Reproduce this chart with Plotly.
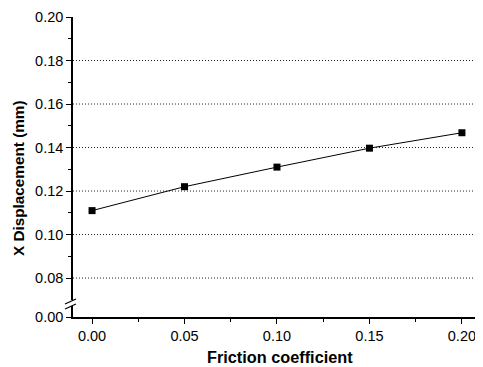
import plotly.graph_objects as go

# Data
friction = [0.00, 0.05, 0.10, 0.15, 0.20]
displacement = [0.111, 0.122, 0.131, 0.1397, 0.1468]

x_ticks = [0.00, 0.05, 0.10, 0.15, 0.20]
x_tick_labels = ["0.00", "0.05", "0.10", "0.15", "0.20"]
y_ticks = [0.08, 0.10, 0.12, 0.14, 0.16, 0.18, 0.20]
y_tick_labels = ["0.08", "0.10", "0.12", "0.14", "0.16", "0.18", "0.20"]
grid_values = [0.08, 0.10, 0.12, 0.14, 0.16, 0.18]

# broken axis: the "0.00" label sits below the break
Y_ZERO_POS = 0.0621
Y_TOP = 0.20

fig = go.Figure()
fig.add_trace(go.Scatter(
    x=friction, y=displacement, mode="lines+markers",
    line=dict(color="black", width=1),
    marker=dict(symbol="square", size=7, color="black"),
    showlegend=False, cliponaxis=False,
))

shapes = []
for g in grid_values:
    shapes.append(dict(type="line", xref="paper", yref="y", x0=0, x1=1, y0=g, y1=g,
                       line=dict(color="#222", width=1, dash="1px,2px"), layer="below"))

# axis break marks (positions in page pixels; plot area spans x 73..483, y 17..317)
span = Y_TOP - Y_ZERO_POS
def ypix(p):
    return Y_TOP - (p - 17) / 300.0 * span
def xpaper(p):
    return (p - 73) / 410.0

shapes.append(dict(type="rect", xref="paper", yref="y", x0=xpaper(70), x1=xpaper(76),
                   y0=ypix(306), y1=ypix(300), fillcolor="white", line=dict(width=0), layer="above"))
shapes.append(dict(type="line", xref="paper", yref="y", x0=xpaper(65), x1=xpaper(76),
                   y0=ypix(304), y1=ypix(299), line=dict(color="black", width=1.2), layer="above"))
shapes.append(dict(type="line", xref="paper", yref="y", x0=xpaper(65), x1=xpaper(76),
                   y0=ypix(309), y1=ypix(304), line=dict(color="black", width=1.2), layer="above"))

annotations = [
    dict(text="<b>Friction coefficient</b>", xref="paper", yref="paper",
         x=xpaper(280), y=-(357 - 317) / 300.0, xanchor="center", yanchor="middle",
         showarrow=False, font=dict(size=16.3)),
    dict(text="<b>X Displacement (mm)</b>", xref="paper", yref="paper",
         x=xpaper(18), y=(317 - 178) / 300.0, xanchor="center", yanchor="middle",
         textangle=-90, showarrow=False, font=dict(size=15.3)),
]

# page body has an 8px margin: figure is shrunk by 8px and margins shifted accordingly
fig.update_layout(
    width=475, height=359,
    margin=dict(l=65, r=0, t=9, b=50),
    paper_bgcolor="white", plot_bgcolor="white",
    font=dict(family="Liberation Sans, Arial, sans-serif", size=14.5, color="black"),
    shapes=shapes,
    annotations=annotations,
    xaxis=dict(
        range=[-0.0103, 0.2114], automargin=False,
        tickmode="array", tickvals=x_ticks, ticktext=x_tick_labels,
        ticks="outside", ticklen=5, tickwidth=1.2, tickcolor="black",
        minor=dict(tickvals=[0.025, 0.075, 0.125, 0.175], ticks="outside", ticklen=3, tickcolor="black"),
        showline=True, linecolor="black", linewidth=1.5,
        showgrid=False, zeroline=False,
    ),
    yaxis=dict(
        range=[Y_ZERO_POS, Y_TOP], automargin=False,
        tickmode="array", tickvals=[Y_ZERO_POS] + y_ticks, ticktext=["0.00"] + y_tick_labels,
        ticks="outside", ticklen=5, tickwidth=1.2, tickcolor="black",
        minor=dict(tickvals=[0.09, 0.11, 0.13, 0.15, 0.17, 0.19], ticks="outside", ticklen=3, tickcolor="black"),
        showline=True, linecolor="black", linewidth=1.5,
        showgrid=False, zeroline=False,
    ),
)

fig.write_html("out.html")
